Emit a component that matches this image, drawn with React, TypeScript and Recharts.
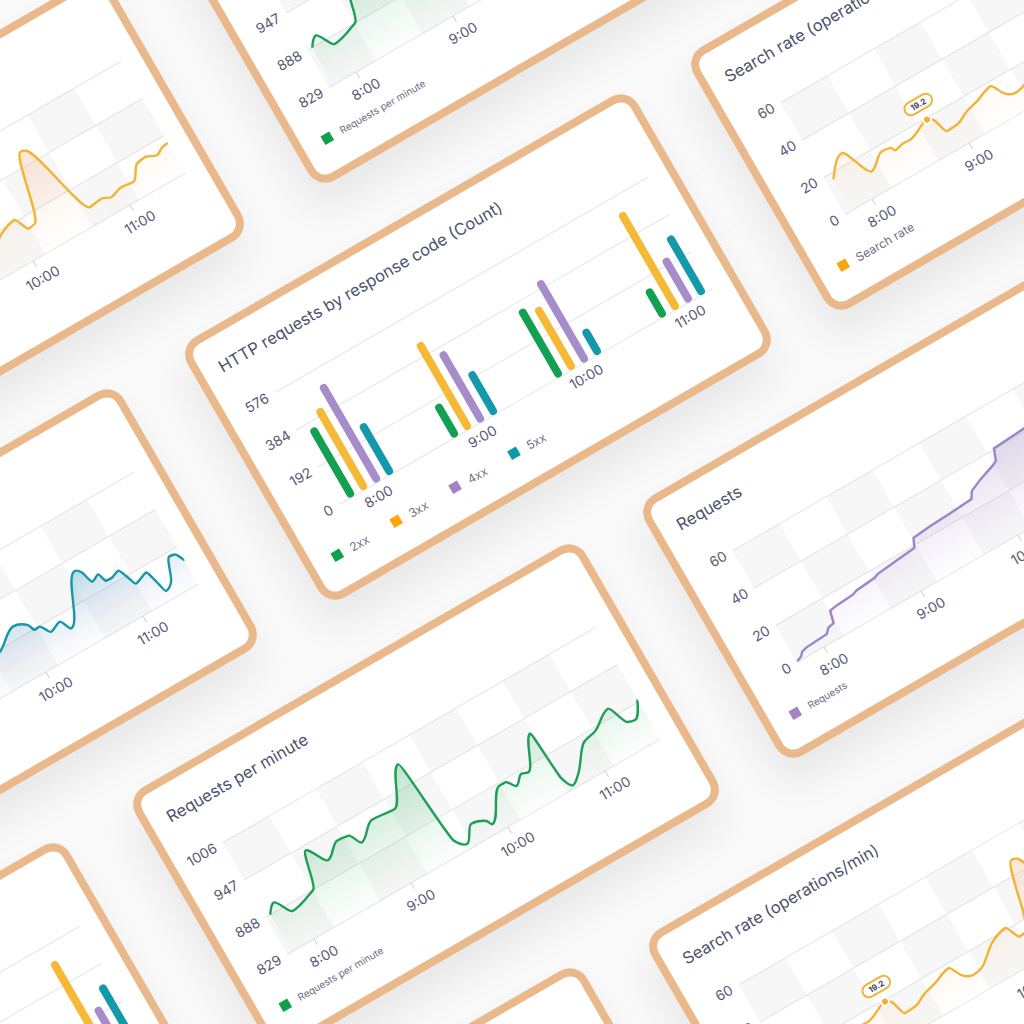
import React from 'react';
import {
  AreaChart,
  Area,
  BarChart,
  Bar,
  XAxis,
  YAxis,
  CartesianGrid,
  ReferenceArea,
  ReferenceDot,
} from 'recharts';

// shared time axis (hours)
const hourTicks = [8, 9, 10, 11];
const barDomain = [7.683, 11.275];
const lineDomain = [7.723, 11.571];

// HTTP requests by response code (Count)
const codeKeys = ['2xx', '3xx', '4xx', '5xx'];
const codeBarColors = ['#14a052', '#f5b936', '#a68ccb', '#1399a9'];
const codeLegendColors = ['#0fa04e', '#ffa50a', '#a383c5', '#0d99a7'];
const codeHours = [8, 9, 10, 11];
const count2xx = [356, 169, 350, 144];
const count3xx = [418, 449, 321, 500];
const count4xx = [503, 362, 419, 226];
const count5xx = [262, 220, 130, 302];
const countTicks = [0, 192, 384, 576];

// Requests per minute
const rpmTime = [7.77, 7.85, 7.96, 8.16, 8.22, 8.33, 8.46, 8.62, 8.73, 8.8, 8.98, 9.13, 9.2, 9.43, 9.52, 9.61, 9.73, 9.86, 9.89, 10.12, 10.18, 10.25, 10.34, 10.4, 10.59, 10.63, 10.69, 10.78, 10.97, 11.1, 11.3, 11.39, 11.46, 11.57];
const rpmValue = [888, 900, 877, 885, 889, 940, 913, 930, 928, 911, 931, 929, 928, 979, 850, 837, 858, 851, 843, 884, 884, 872, 883, 880, 925, 850, 834, 844, 878, 883, 901, 872, 869, 892];
const rpmTicks = [829, 888, 947, 1006];

// Requests (cumulative)
const reqTime = [7.73, 7.78, 7.81, 7.86, 8.08, 8.12, 8.18, 8.21, 8.28, 8.46, 8.5, 8.7, 8.74, 8.92, 9.14, 9.18, 9.37, 9.54, 9.8, 9.84, 9.96, 10.11, 10.16, 10.2, 10.52, 10.64, 10.84, 11.04, 11.24, 11.44, 11.57];
const reqValue = [0.5, 1.5, 3.2, 3.9, 4.6, 6.8, 7.4, 13.2, 13.8, 14.4, 15.2, 16.1, 16.9, 17.8, 18.9, 23.2, 24.0, 24.4, 25.3, 28.5, 31.2, 33.8, 35.0, 40.5, 41.5, 44, 46.5, 49, 52, 55, 57];
const reqTicks = [0, 20, 40, 60];

// Search rate (operations/min)
const searchTime = [7.79, 7.97, 8.12, 8.29, 8.37, 8.4, 8.49, 8.56, 8.62, 8.78, 8.83, 8.88, 8.99, 9.12, 9.25, 9.42, 9.49, 9.58, 9.67, 9.88, 10.04, 10.11, 10.18, 10.39, 10.44, 10.68, 10.81, 10.89, 11.01, 11.13, 11.24, 11.33, 11.43, 11.5, 11.57];
const searchValue = [16.9, 25.5, 11.2, 16.9, 16.3, 14.2, 15.2, 15.0, 15.9, 19.2, 17.4, 9.9, 10.2, 13.2, 15.0, 17.9, 12.1, 9.4, 10.2, 18.3, 20.9, 14.1, 14.6, 46.9, 46.0, 8.5, 9.2, 7.5, 9.2, 8.5, 15.1, 15.8, 13.8, 15.6, 16.3];
const searchTicks = [0, 20, 40, 60];
const searchPeakTime = 8.78;
const searchPeakValue = 19.2;

// Indexing rate (operations/min)
const indexTime = [7.75, 8.0, 8.2, 8.45, 8.7, 8.95, 9.2, 9.45, 9.6, 9.75, 9.95, 10.07, 10.1, 10.15, 10.22, 10.33, 10.39, 10.67, 10.72, 10.76, 10.84, 10.87, 10.92, 11.01, 11.05, 11.09, 11.22, 11.25, 11.29, 11.37, 11.47, 11.52, 11.57];
const indexValue = [12, 10, 14, 11, 15, 13, 17, 14, 16, 19.3, 26, 23.1, 19.6, 19.8, 15, 17.1, 11.7, 34, 31.9, 25.6, 27.2, 22.8, 22.6, 24, 19.7, 14.7, 16.8, 12.2, 4.7, 7.3, 17.9, 17.4, 12.7];
const indexTicks = [0, 20, 40, 60];

const codeRows = codeHours.map((t, i) => ({
  t,
  '2xx': count2xx[i],
  '3xx': count3xx[i],
  '4xx': count4xx[i],
  '5xx': count5xx[i],
}));
const toRows = (ts: number[], vs: number[]) => ts.map((t, i) => ({ t, v: vs[i] }));
const rpmRows = toRows(rpmTime, rpmValue);
const reqRows = toRows(reqTime, reqValue);
const searchRows = toRows(searchTime, searchValue);
const indexRows = toRows(indexTime, indexValue);

const fmtHour = (v: number) => `${v}:00`;
const tickStyle = { fill: '#565c75', fontSize: 14 };
// legend is drawn as html below the plot, so the bottom margin reserves its room
const chartMargin = { top: 80, right: 20, bottom: 41, left: 0 };

type LegendItem = { label: string; color: string };

// Recharts' <Legend> measures itself with getBoundingClientRect, which is
// wrong inside a rotated card, so the legend row is plain html instead.
function LegendRow({ items, fontSize }: { items: LegendItem[]; fontSize: number }) {
  return (
    <div
      style={{
        position: 'absolute',
        left: 0,
        top: 244,
        display: 'flex',
        height: 16,
        alignItems: 'center',
        paddingLeft: 21,
      }}
    >
      {items.map((it) => (
        <div key={it.label} style={{ width: 68, display: 'flex', alignItems: 'center' }}>
          <span style={{ width: 10, height: 10, background: it.color, marginRight: 10, flex: 'none' }} />
          <span style={{ fontSize, color: '#6a7085', whiteSpace: 'nowrap' }}>{it.label}</span>
        </div>
      ))}
    </div>
  );
}

function checkerCells(yTicks: number[]) {
  const cols = 8;
  const w = (lineDomain[1] - lineDomain[0]) / cols;
  const cells: { x1: number; x2: number; y1: number; y2: number }[] = [];
  for (let r = 0; r < yTicks.length - 1; r++) {
    for (let c = 0; c < cols; c++) {
      if ((r + c) % 2 === 0) {
        cells.push({ x1: lineDomain[0] + c * w, x2: lineDomain[0] + (c + 1) * w, y1: yTicks[r], y2: yTicks[r + 1] });
      }
    }
  }
  return cells;
}

function PeakLabel(props: any) {
  const { viewBox } = props;
  if (!viewBox) return null;
  const cx = viewBox.x + viewBox.width / 2;
  const cy = viewBox.y + viewBox.height / 2;
  return (
    <g>
      <rect x={cx - 15} y={cy - 24} width={30} height={13} rx={6.5} fill="#fff" stroke="#f0b43c" strokeWidth={2} />
      <text x={cx} y={cy - 14.5} textAnchor="middle" fontSize={8} fontWeight={700} fill="#3f4459">
        {searchPeakValue}
      </text>
    </g>
  );
}

function CodesChart() {
  return (
    <>
      <BarChart width={504} height={284} data={codeRows} margin={chartMargin} barGap={7} barSize={8}>
        <CartesianGrid vertical={false} stroke="#e6e6e6" />
        <XAxis
          dataKey="t"
          type="number"
          domain={barDomain}
          ticks={hourTicks}
          tickFormatter={fmtHour}
          axisLine={false}
          tickLine={false}
          tick={tickStyle}
          height={34}
          allowDataOverflow
        />
        <YAxis domain={[0, 576]} ticks={countTicks} axisLine={false} tickLine={false} tick={tickStyle} width={53} />
        {codeKeys.map((k, i) => (
          <Bar key={k} dataKey={k} fill={codeBarColors[i]} radius={4} isAnimationActive={false} />
        ))}
      </BarChart>
      <LegendRow items={codeKeys.map((k, i) => ({ label: k, color: codeLegendColors[i] }))} fontSize={12} />
    </>
  );
}

type AreaProps = {
  rows: { t: number; v: number }[];
  yTicks: number[];
  color: string;
  fillTop: string;
  fillBottom: string;
  topOpacity: number;
  gradId: string;
  legend: LegendItem;
  legendSize: number;
  curve: 'monotone' | 'linear';
  peak?: boolean;
};

function TimeAreaChart({ rows, yTicks, color, fillTop, fillBottom, topOpacity, gradId, legend, legendSize, curve, peak }: AreaProps) {
  return (
    <>
      <AreaChart width={504} height={284} data={rows} margin={chartMargin}>
        <defs>
          <linearGradient id={gradId} x1="0" y1="0" x2="0" y2="1">
            <stop offset="0%" stopColor={fillTop} stopOpacity={topOpacity} />
            <stop offset="100%" stopColor={fillBottom} stopOpacity={0.04} />
          </linearGradient>
        </defs>
        {checkerCells(yTicks).map((c, i) => (
          <ReferenceArea key={i} x1={c.x1} x2={c.x2} y1={c.y1} y2={c.y2} fill="#000" fillOpacity={0.03} stroke="none" />
        ))}
        <CartesianGrid vertical={false} stroke="#e6e6e6" />
        <XAxis
          dataKey="t"
          type="number"
          domain={lineDomain}
          ticks={hourTicks}
          tickFormatter={fmtHour}
          axisLine={false}
          tickLine={{ stroke: '#cfd0d6' }}
          tickSize={7}
          tickMargin={8}
          tick={tickStyle}
          height={34}
          allowDataOverflow
        />
        <YAxis
          domain={[yTicks[0], yTicks[yTicks.length - 1]]}
          ticks={yTicks}
          axisLine={false}
          tickLine={false}
          tick={tickStyle}
          width={53}
          allowDataOverflow
        />
        <Area
          type={curve}
          dataKey="v"
          stroke={color}
          strokeWidth={2.4}
          fill={`url(#${gradId})`}
          dot={false}
          activeDot={false}
          isAnimationActive={false}
        />
        {peak && (
          <ReferenceDot
            x={searchPeakTime}
            y={searchPeakValue}
            r={4}
            fill="#f2b032"
            stroke="#fff"
            strokeWidth={2}
            label={<PeakLabel />}
          />
        )}
      </AreaChart>
      <LegendRow items={[legend]} fontSize={legendSize} />
    </>
  );
}

function RpmChart({ id }: { id: string }) {
  return (
    <TimeAreaChart
      rows={rpmRows}
      yTicks={rpmTicks}
      color="#1d9f56"
      fillTop="#1fa558"
      fillBottom="#7fcb9c"
      topOpacity={0.5}
      gradId={id}
      legend={{ label: 'Requests per minute', color: '#0f9f4d' }}
      legendSize={10}
      curve="monotone"
    />
  );
}

function RequestsChart({ id }: { id: string }) {
  return (
    <TimeAreaChart
      rows={reqRows}
      yTicks={reqTicks}
      color="#9d86c6"
      fillTop="#9c84c8"
      fillBottom="#c3b5de"
      topOpacity={0.7}
      gradId={id}
      legend={{ label: 'Requests', color: '#a385c6' }}
      legendSize={10}
      curve="linear"
    />
  );
}

function SearchChart({ id }: { id: string }) {
  return (
    <TimeAreaChart
      rows={searchRows}
      yTicks={searchTicks}
      color="#f3b335"
      fillTop="#f4a060"
      fillBottom="#fbd9b5"
      topOpacity={0.45}
      gradId={id}
      legend={{ label: 'Search rate', color: '#f7a611' }}
      legendSize={12}
      curve="monotone"
      peak
    />
  );
}

function IndexChart({ id }: { id: string }) {
  return (
    <TimeAreaChart
      rows={indexRows}
      yTicks={indexTicks}
      color="#1497a9"
      fillTop="#2b8ab4"
      fillBottom="#a9b0e0"
      topOpacity={0.55}
      gradId={id}
      legend={{ label: 'Indexing rate', color: '#1497a9' }}
      legendSize={10}
      curve="monotone"
    />
  );
}

function Card({ cx, cy, title, children }: { cx: number; cy: number; title: string; children: React.ReactNode }) {
  return (
    <div
      style={{
        position: 'absolute',
        left: cx - 260,
        top: cy - 150,
        width: 520,
        height: 300,
        boxSizing: 'border-box',
        border: '8px solid #e9b98b',
        borderRadius: 20,
        background: '#fff',
        transform: 'rotate(-30deg)',
        boxShadow: '-12px 22px 38px rgba(0,0,0,0.07)',
        overflow: 'hidden',
      }}
    >
      <div
        style={{
          position: 'absolute',
          left: 18,
          top: 21,
          fontSize: 16.5,
          lineHeight: '20px',
          color: '#4c536e',
          whiteSpace: 'nowrap',
        }}
      >
        {title}
      </div>
      <div style={{ position: 'absolute', left: 0, top: 0, width: 504, height: 284 }}>{children}</div>
    </div>
  );
}

export default function App() {
  return (
    <div
      style={{
        position: 'fixed',
        left: 0,
        top: 0,
        width: 1024,
        height: 1024,
        overflow: 'hidden',
        background: '#f9f9f9',
        fontFamily: 'Inter, "Open Sans", sans-serif',
      }}
    >
      <Card cx={-49} cy={231} title="Search rate (operations/min)">
        <SearchChart id="g-search-a" />
      </Card>
      <Card cx={468} cy={-70} title="Requests per minute">
        <RpmChart id="g-rpm-a" />
      </Card>
      <Card cx={984} cy={57} title="Search rate (operations/min)">
        <SearchChart id="g-search-b" />
      </Card>
      <Card cx={-36} cy={642} title="Indexing rate (operations/min)">
        <IndexChart id="g-index" />
      </Card>
      <Card cx={478} cy={347} title="HTTP requests by response code (Count)">
        <CodesChart />
      </Card>
      <Card cx={936} cy={505} title="Requests">
        <RequestsChart id="g-req-a" />
      </Card>
      <Card cx={-90} cy={1096} title="HTTP requests by response code (Count)">
        <CodesChart />
      </Card>
      <Card cx={426} cy={797} title="Requests per minute">
        <RpmChart id="g-rpm-b" />
      </Card>
      <Card cx={427} cy={1221} title="Requests">
        <RequestsChart id="g-req-b" />
      </Card>
      <Card cx={942} cy={939} title="Search rate (operations/min)">
        <SearchChart id="g-search-c" />
      </Card>
    </div>
  );
}
